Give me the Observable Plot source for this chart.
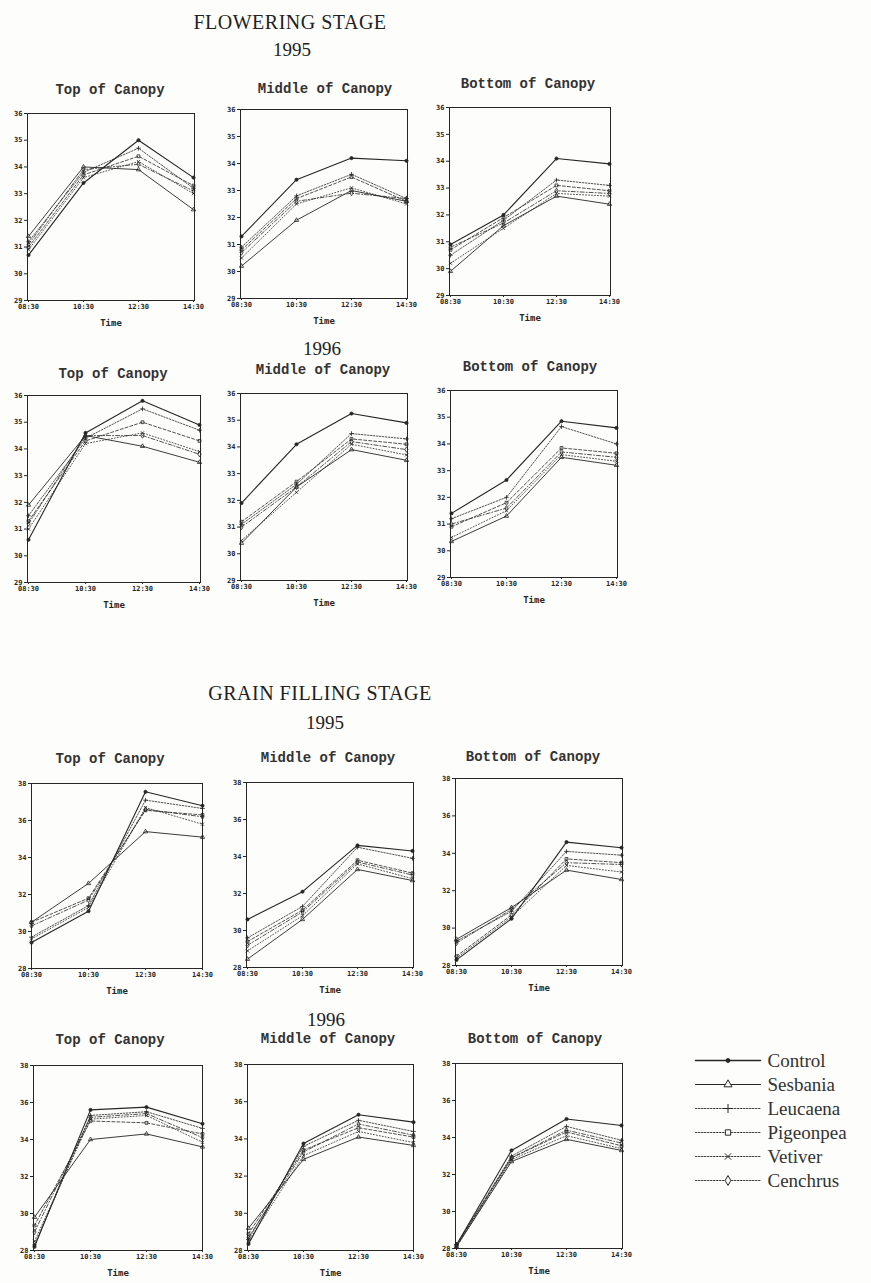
<!DOCTYPE html>
<html>
<head>
<meta charset="utf-8">
<script src="https://cdn.jsdelivr.net/npm/d3@7"></script>
<script src="https://cdn.jsdelivr.net/npm/@observablehq/plot@0.6"></script>
<style>
  html, body { margin: 0; padding: 0; background: #fdfdfb; }
  #page { position: relative; width: 871px; height: 1283px; overflow: hidden; background: #fdfdfb; }
  .t { position: absolute; transform: translate(-50%, -50%); white-space: nowrap; color: #222; }
  .stage { font-family: "Liberation Serif", "DejaVu Serif", serif; font-size: 20px; letter-spacing: 0.5px; }
  .year { font-family: "Liberation Serif", "DejaVu Serif", serif; font-size: 19px; }
  .ptitle { font-family: "Liberation Mono", "DejaVu Sans Mono", monospace; font-size: 14px; font-weight: bold; color: #333; }
  .pl { position: absolute; }
</style>
</head>
<body>
<div id="page"></div>
<script>
// ---------- data ----------
const times = ["08:30", "10:30", "12:30", "14:30"];
const series = ["Control", "Sesbania", "Leucaena", "Pigeonpea", "Vetiver", "Cenchrus"];
const flowerTicks = [29, 30, 31, 32, 33, 34, 35, 36];
const grainTicks = [28, 30, 32, 34, 36, 38];

// Flowering stage 1995
const fl95Top = {
  Control:   [30.7, 33.4, 35.0, 33.6],
  Sesbania:  [31.4, 34.0, 33.9, 32.4],
  Leucaena:  [31.2, 33.8, 34.7, 33.2],
  Pigeonpea: [31.0, 33.7, 34.4, 33.3],
  Vetiver:   [30.9, 33.6, 34.2, 33.0],
  Cenchrus:  [31.1, 33.9, 34.1, 33.1]
};
const fl95Mid = {
  Control:   [31.3, 33.4, 34.2, 34.1],
  Sesbania:  [30.2, 31.9, 33.0, 32.6],
  Leucaena:  [30.9, 32.8, 33.6, 32.7],
  Pigeonpea: [30.8, 32.7, 33.5, 32.6],
  Vetiver:   [30.5, 32.5, 33.1, 32.5],
  Cenchrus:  [30.7, 32.6, 32.9, 32.7]
};
const fl95Bot = {
  Control:   [30.9, 32.0, 34.1, 33.9],
  Sesbania:  [29.9, 31.6, 32.7, 32.4],
  Leucaena:  [30.5, 31.8, 33.3, 33.1],
  Pigeonpea: [30.7, 31.9, 33.1, 32.9],
  Vetiver:   [30.2, 31.5, 32.8, 32.7],
  Cenchrus:  [30.8, 31.7, 32.9, 32.8]
};
// Flowering stage 1996
const fl96Top = {
  Control:   [30.6, 34.6, 35.8, 34.9],
  Sesbania:  [31.9, 34.5, 34.1, 33.5],
  Leucaena:  [31.5, 34.4, 35.5, 34.7],
  Pigeonpea: [31.3, 34.3, 35.0, 34.3],
  Vetiver:   [31.0, 34.2, 34.6, 33.9],
  Cenchrus:  [31.2, 34.5, 34.5, 33.8]
};
const fl96Mid = {
  Control:   [31.9, 34.1, 35.25, 34.9],
  Sesbania:  [30.4, 32.5, 33.9, 33.5],
  Leucaena:  [31.1, 32.6, 34.5, 34.3],
  Pigeonpea: [31.2, 32.7, 34.3, 34.1],
  Vetiver:   [30.5, 32.3, 34.1, 33.7],
  Cenchrus:  [31.0, 32.5, 34.2, 33.9]
};
const fl96Bot = {
  Control:   [31.4, 32.65, 34.85, 34.6],
  Sesbania:  [30.35, 31.3, 33.5, 33.2],
  Leucaena:  [31.2, 32.0, 34.65, 34.0],
  Pigeonpea: [30.9, 31.8, 33.85, 33.65],
  Vetiver:   [30.5, 31.5, 33.6, 33.35],
  Cenchrus:  [31.0, 31.6, 33.7, 33.5]
};
// Grain filling stage 1995
const gf95Top = {
  Control:   [29.4, 31.1, 37.55, 36.8],
  Sesbania:  [30.5, 32.6, 35.4, 35.1],
  Leucaena:  [29.7, 31.4, 37.1, 36.65],
  Pigeonpea: [30.5, 31.8, 36.55, 36.3],
  Vetiver:   [29.6, 31.3, 36.7, 35.8],
  Cenchrus:  [30.3, 31.7, 36.6, 36.2]
};
const gf95Mid = {
  Control:   [30.6, 32.1, 34.6, 34.3],
  Sesbania:  [28.45, 30.6, 33.3, 32.7],
  Leucaena:  [29.6, 31.3, 34.5, 33.9],
  Pigeonpea: [29.4, 31.1, 33.8, 33.1],
  Vetiver:   [28.9, 30.8, 33.6, 32.8],
  Cenchrus:  [29.2, 31.0, 33.7, 33.0]
};
const gf95Bot = {
  Control:   [28.3, 30.5, 34.6, 34.3],
  Sesbania:  [29.4, 31.1, 33.1, 32.6],
  Leucaena:  [29.3, 30.9, 34.1, 33.9],
  Pigeonpea: [28.5, 30.7, 33.7, 33.5],
  Vetiver:   [28.4, 30.6, 33.35, 33.0],
  Cenchrus:  [29.2, 31.0, 33.5, 33.4]
};
// Grain filling stage 1996
const gf96Top = {
  Control:   [28.2, 35.6, 35.75, 34.85],
  Sesbania:  [29.8, 34.0, 34.3, 33.6],
  Leucaena:  [28.3, 35.3, 35.5, 34.6],
  Pigeonpea: [29.35, 35.0, 34.9, 34.3],
  Vetiver:   [28.5, 35.1, 35.3, 33.85],
  Cenchrus:  [29.0, 35.2, 35.4, 34.1]
};
const gf96Mid = {
  Control:   [28.35, 33.75, 35.3, 34.9],
  Sesbania:  [29.2, 32.9, 34.1, 33.65],
  Leucaena:  [28.6, 33.6, 35.0, 34.4],
  Pigeonpea: [28.9, 33.4, 34.6, 34.1],
  Vetiver:   [28.5, 33.1, 34.4, 33.8],
  Cenchrus:  [28.7, 33.3, 34.8, 34.2]
};
const gf96Bot = {
  Control:   [28.2, 33.3, 35.0, 34.65],
  Sesbania:  [28.1, 32.7, 33.9, 33.3],
  Leucaena:  [28.2, 33.0, 34.6, 33.85],
  Pigeonpea: [28.15, 32.9, 34.3, 33.55],
  Vetiver:   [28.1, 32.8, 34.1, 33.4],
  Cenchrus:  [28.2, 32.9, 34.4, 33.7]
};

// ---------- styles ----------
const ink = "#262626";
const dash = {
  Control: null, Sesbania: null, Leucaena: "1.5,1.5",
  Pigeonpea: "3,2", Vetiver: "1,2", Cenchrus: "4,2,1,2"
};
const width = { Control: 1.1, Sesbania: 0.9, Leucaena: 0.8, Pigeonpea: 0.8, Vetiver: 0.8, Cenchrus: 0.8 };
const symbolOf = {
  Control: "circle", Sesbania: "triangle", Leucaena: "plus",
  Pigeonpea: "square", Vetiver: "times", Cenchrus: "diamond"
};

const page = document.getElementById("page");
function label(text, cls, x, y) {
  const d = document.createElement("div");
  d.className = "t " + cls;
  d.textContent = text;
  d.style.left = x + "px";
  d.style.top = y + "px";
  page.appendChild(d);
}

function panel(data, ticks, box) {
  const [l, r, t, b] = box;
  const mL = 26, mR = 14, mT = 6, mB = 32;
  const rows = series.flatMap(s => data[s].map((v, i) => ({ series: s, time: times[i], value: v })));
  const marks = [Plot.frame({ stroke: ink, strokeWidth: 1 })];
  for (const s of series) {
    const sub = rows.filter(d => d.series === s);
    marks.push(Plot.line(sub, {
      x: "time", y: "value", stroke: ink,
      strokeWidth: width[s], strokeDasharray: dash[s]
    }));
    marks.push(Plot.dot(sub, {
      x: "time", y: "value", symbol: () => symbolOf[s], r: 1.6,
      stroke: ink, strokeWidth: 0.8, fill: s === "Control" ? ink : "none"
    }));
  }
  const svg = Plot.plot({
    width: (r - l) + mL + mR,
    height: (b - t) + mT + mB,
    marginLeft: mL, marginRight: mR, marginTop: mT, marginBottom: mB,
    style: { fontFamily: "'DejaVu Sans Mono', monospace", fontSize: "7px", fontWeight: "bold", background: "transparent", color: ink },
    symbol: { type: "identity" },
    x: { type: "point", domain: times, padding: 0, label: "Time", labelAnchor: "center", labelArrow: "none", labelOffset: 25, tickSize: 2, tickPadding: 2 },
    y: { domain: [ticks[0], ticks[ticks.length - 1]], ticks, tickFormat: d => String(d), tickSize: 3, tickPadding: 2, label: null },
    marks
  });
  svg.classList.add("pl");
  svg.style.left = (l - mL) + "px";
  svg.style.top = (t - mT) + "px";
  svg.querySelectorAll("[aria-label='x-axis label'] text").forEach(e => e.style.fontSize = "9px");
  page.appendChild(svg);
}

// headings
label("FLOWERING STAGE", "stage", 290, 22);
label("1995", "year", 292, 50);
label("1996", "year", 322, 349);
label("GRAIN FILLING STAGE", "stage", 320, 693);
label("1995", "year", 325, 723);
label("1996", "year", 326, 1020);

const pt = [
  ["Top of Canopy", 110, 90], ["Middle of Canopy", 325, 89], ["Bottom of Canopy", 528, 84],
  ["Top of Canopy", 113, 374], ["Middle of Canopy", 323, 370], ["Bottom of Canopy", 530, 367],
  ["Top of Canopy", 110, 759], ["Middle of Canopy", 328, 758], ["Bottom of Canopy", 533, 757],
  ["Top of Canopy", 110, 1040], ["Middle of Canopy", 328, 1039], ["Bottom of Canopy", 535, 1039]
];
pt.forEach(([s, x, y]) => label(s, "ptitle", x, y));

panel(fl95Top, flowerTicks, [27, 194, 113, 300]);
panel(fl95Mid, flowerTicks, [240, 407, 109, 298]);
panel(fl95Bot, flowerTicks, [449, 610, 107, 295]);
panel(fl96Top, flowerTicks, [27, 200, 395, 582]);
panel(fl96Mid, flowerTicks, [240, 407, 393, 580]);
panel(fl96Bot, flowerTicks, [450, 617, 390, 577]);
panel(gf95Top, grainTicks, [31, 202, 783, 968]);
panel(gf95Mid, grainTicks, [246, 413, 782, 967]);
panel(gf95Bot, grainTicks, [455, 622, 778, 965]);
panel(gf96Top, grainTicks, [33, 202, 1065, 1250]);
panel(gf96Mid, grainTicks, [247, 413, 1064, 1250]);
panel(gf96Bot, grainTicks, [455, 622, 1063, 1248]);

// legend
const keyX = [0, 1];
const legRows = series.flatMap(s => keyX.map(x => ({ series: s, x })));
const legMarks = [];
for (const s of series) {
  legMarks.push(Plot.line(legRows.filter(d => d.series === s), {
    x: "x", y: "series", stroke: ink,
    strokeWidth: s === "Control" ? 1.6 : s === "Sesbania" ? 1.1 : 0.9,
    strokeDasharray: s === "Control" || s === "Sesbania" ? null : "1.5,1.5"
  }));
}
legMarks.push(Plot.dot(series, {
  x: () => 0.5, y: d => d, symbol: d => symbolOf[d],
  r: d => d === "Control" ? 2.2 : 5, stroke: ink, strokeWidth: 1,
  fill: d => d === "Control" ? ink : "#fdfdfb"
}));
legMarks.push(Plot.text(series, {
  x: () => 1, y: d => d, text: d => d, dx: 7, textAnchor: "start",
  fill: "#333", fontSize: 19, fontFamily: "'Liberation Serif', serif"
}));
const leg = Plot.plot({
  width: 181, height: 147,
  marginLeft: 5, marginRight: 111, marginTop: 12, marginBottom: 12,
  style: { background: "transparent", overflow: "visible" },
  symbol: { type: "identity" },
  x: { domain: [0, 1], axis: null },
  y: { type: "point", domain: series, padding: 0, axis: null },
  marks: legMarks
});
leg.classList.add("pl");
leg.style.left = "690px";
leg.style.top = "1046px";
page.appendChild(leg);
</script>
</body>
</html>
